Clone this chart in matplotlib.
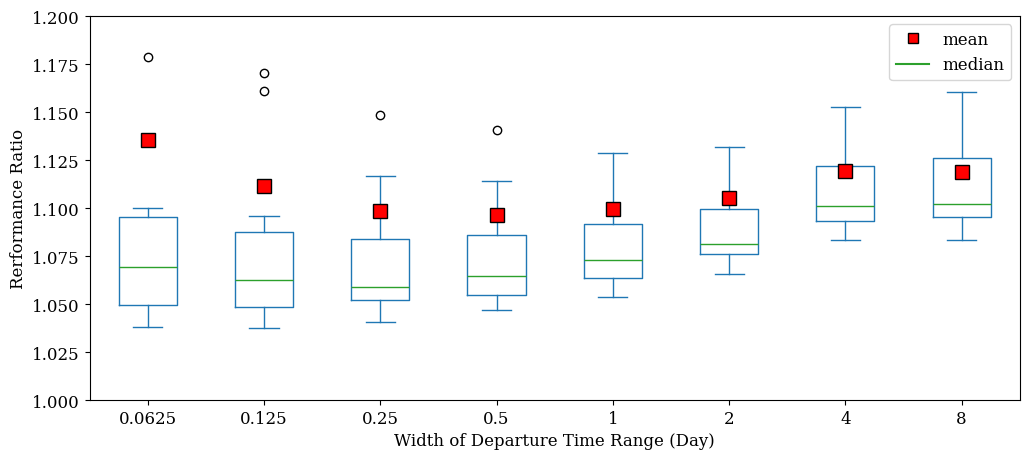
import matplotlib
matplotlib.use('Agg')
import matplotlib.pyplot as plt
from matplotlib.lines import Line2D

plt.rcParams['font.family'] = 'DejaVu Serif'
plt.rcParams['font.size'] = 12

labels = ['0.0625', '0.125', '0.25', '0.5', '1', '2', '4', '8']
whislo = [1.0380, 1.0375, 1.0406, 1.0469, 1.0536, 1.0656, 1.0833, 1.0833]
q1 = [1.0495, 1.0484, 1.0521, 1.0547, 1.0635, 1.0760, 1.0932, 1.0953]
med = [1.0693, 1.0625, 1.0589, 1.0646, 1.0729, 1.0813, 1.1010, 1.1021]
q3 = [1.0953, 1.0875, 1.0839, 1.0859, 1.0917, 1.0995, 1.1219, 1.1260]
whishi = [1.1000, 1.0958, 1.1167, 1.1141, 1.1286, 1.1318, 1.1526, 1.1604]
means = [1.1354, 1.1115, 1.0984, 1.0964, 1.0995, 1.1052, 1.1193, 1.1188]
fliers = [[1.1786], [1.1703, 1.1609], [1.1484], [1.1406], [], [], [], []]

stats = []
for i in range(len(labels)):
    stats.append({'label': labels[i], 'whislo': whislo[i], 'q1': q1[i], 'med': med[i],
                  'q3': q3[i], 'whishi': whishi[i], 'mean': means[i], 'fliers': fliers[i]})

fig = plt.figure(figsize=(10.3, 4.6), dpi=100)
ax = fig.add_subplot(1, 1, 1)
fig.subplots_adjust(left=0.087, right=0.99, top=0.963, bottom=0.128)

blue = '#1f77b4'
ax.bxp(stats, positions=range(1, 9), widths=0.5, showmeans=False,
       boxprops=dict(color=blue), whiskerprops=dict(color=blue),
       capprops=dict(color=blue), medianprops=dict(color='#2ca02c'),
       flierprops=dict(marker='o', markerfacecolor='none', markeredgecolor='black'))
ax.plot(range(1, 9), means, 's', color='red', markeredgecolor='black',
        markersize=10, linestyle='none', zorder=5)

ax.set_ylim(1.0, 1.2)
ax.set_yticks([1.0 + 0.025 * k for k in range(9)])
ax.set_yticklabels(['%.3f' % (1.0 + 0.025 * k) for k in range(9)])
ax.set_xlabel('Width of Departure Time Range (Day)')
ax.set_ylabel('Rerformance Ratio')

handles = [Line2D([], [], marker='s', color='red', markeredgecolor='black',
                  linestyle='none', markersize=7),
           Line2D([], [], color='#2ca02c')]
ax.legend(handles, ['mean', 'median'], loc='upper right')

fig.savefig('out.png')
